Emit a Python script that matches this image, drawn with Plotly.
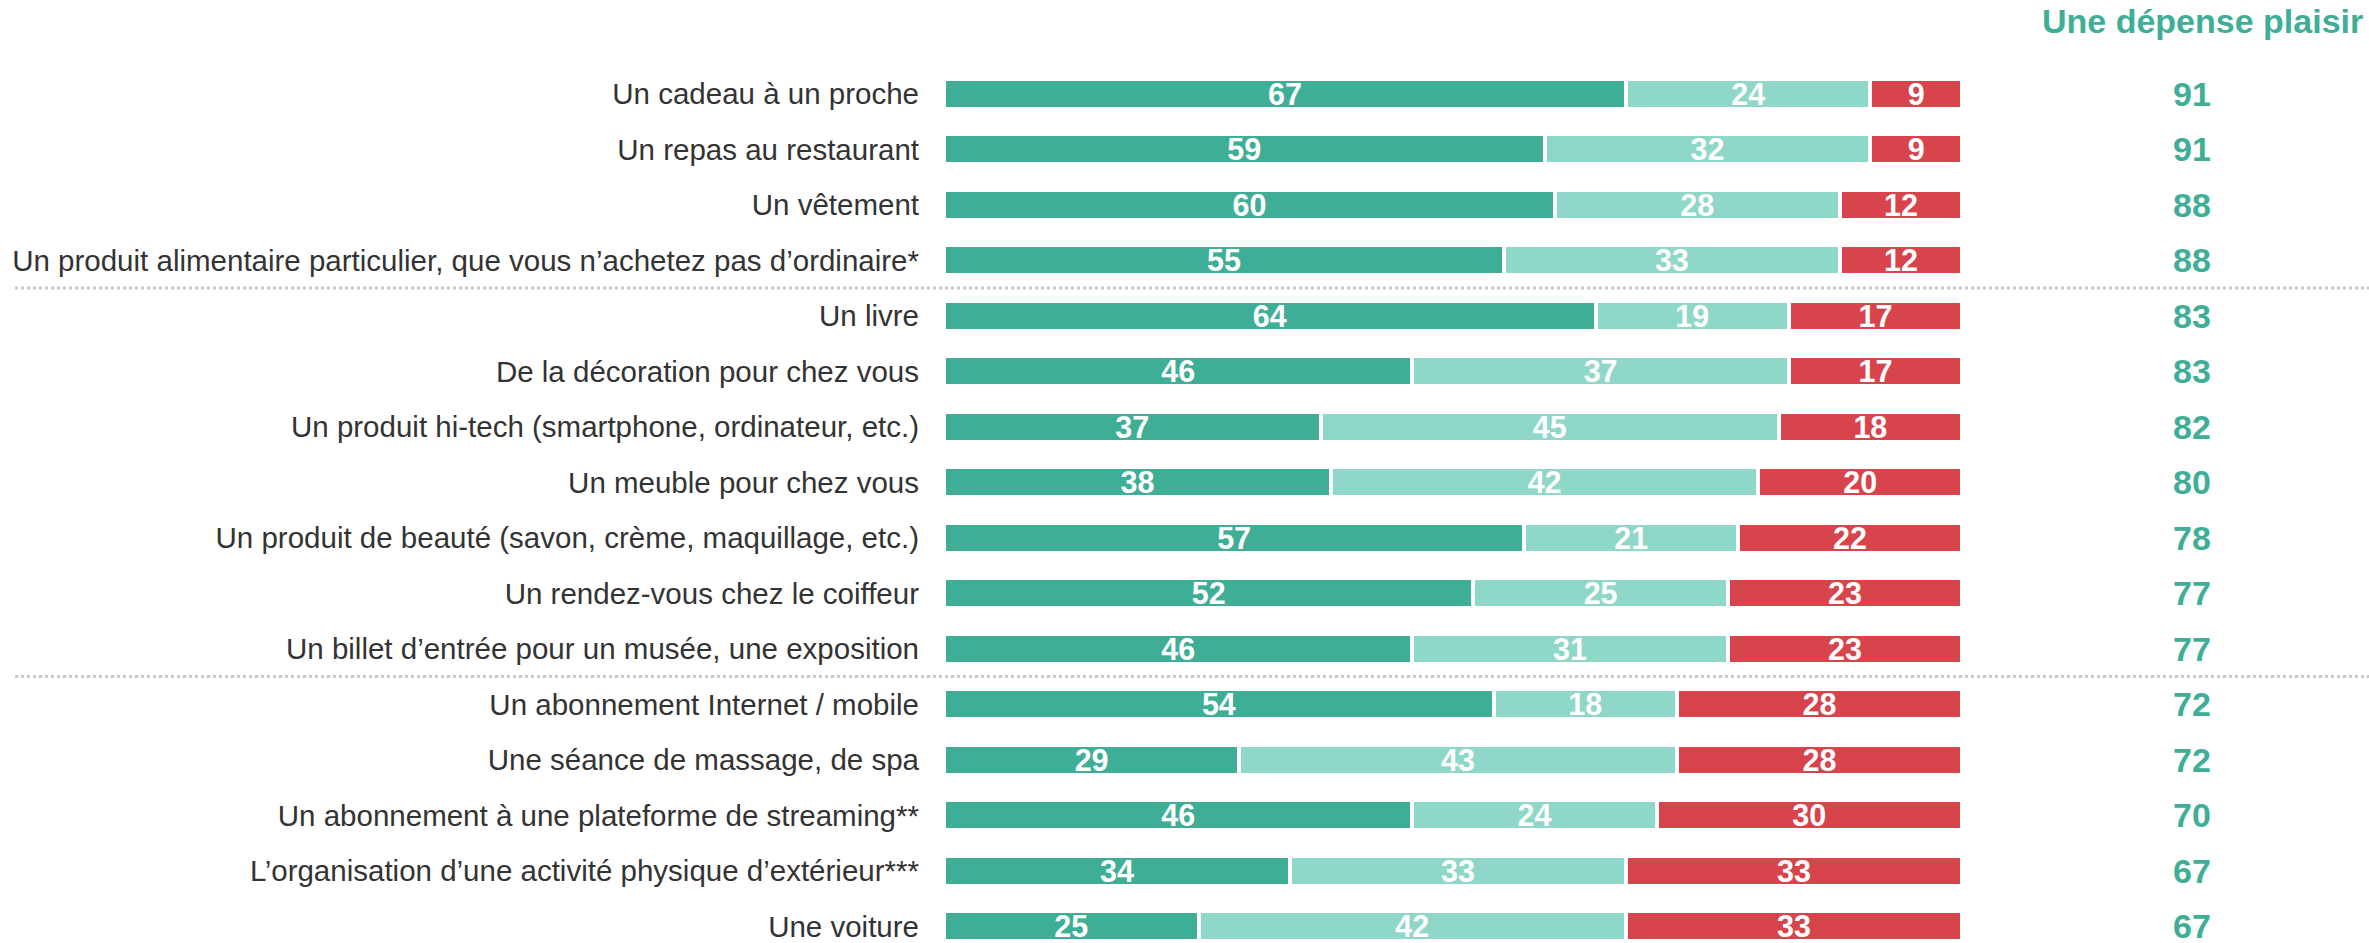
import plotly.graph_objects as go

categories = [
    "Un cadeau à un proche",
    "Un repas au restaurant",
    "Un vêtement",
    "Un produit alimentaire particulier, que vous n’achetez pas d’ordinaire*",
    "Un livre",
    "De la décoration pour chez vous",
    "Un produit hi-tech (smartphone, ordinateur, etc.)",
    "Un meuble pour chez vous",
    "Un produit de beauté (savon, crème, maquillage, etc.)",
    "Un rendez-vous chez le coiffeur",
    "Un billet d’entrée pour un musée, une exposition",
    "Un abonnement Internet / mobile",
    "Une séance de massage, de spa",
    "Un abonnement à une plateforme de streaming**",
    "L’organisation d’une activité physique d’extérieur***",
    "Une voiture",
]
oui_tout_a_fait = [67, 59, 60, 55, 64, 46, 37, 38, 57, 52, 46, 54, 29, 46, 34, 25]
oui_plutot = [24, 32, 28, 33, 19, 37, 45, 42, 21, 25, 31, 18, 43, 24, 33, 42]
non = [9, 9, 12, 12, 17, 17, 18, 20, 22, 23, 23, 28, 28, 30, 33, 33]
depense_plaisir = [91, 91, 88, 88, 83, 83, 82, 80, 78, 77, 77, 72, 72, 70, 67, 67]
header_text = "Une dépense plaisir"
separators_after = [3, 10]

DARK = "#3FAE96"
LIGHT = "#8FD7C8"
RED = "#D7444B"
FONT = "Liberation Sans, Arial, sans-serif"
W, H = 2369, 943

fig = go.Figure()
for vals, col in [(oui_tout_a_fait, DARK), (oui_plutot, LIGHT), (non, RED)]:
    fig.add_trace(go.Bar(
        y=categories, x=vals, orientation="h",
        marker=dict(color=col, line=dict(color="white", width=4)),
        text=vals, texttemplate="<b>%{text}</b>",
        textposition="inside", insidetextanchor="middle",
        constraintext="none", textangle=0,
        textfont=dict(family=FONT, size=30.5, color="white"),
        hoverinfo="skip", showlegend=False,
    ))

annotations = []
for cat, v in zip(categories, depense_plaisir):
    annotations.append(dict(
        x=2192 / W, xref="paper", y=cat, yref="y", text=f"<b>{v}</b>",
        showarrow=False, xanchor="center", yanchor="middle",
        font=dict(family=FONT, size=34, color=DARK),
    ))
annotations.append(dict(
    x=2365 / W, xref="paper", y=1 - 21 / H, yref="paper", text=f"<b>{header_text}</b>",
    showarrow=False, xanchor="right", yanchor="middle",
    font=dict(family=FONT, size=34, color=DARK),
))

shapes = []
for s in separators_after:
    shapes.append(dict(
        type="line", xref="paper", x0=15 / W, x1=1, yref="y", y0=s + 0.5, y1=s + 0.5,
        line=dict(color="#C8C8C8", width=3, dash="dot"),
    ))

fig.update_layout(
    width=W, height=H,
    margin=dict(l=0, r=0, t=0, b=0),
    barmode="stack", bargap=0.46,
    plot_bgcolor="white", paper_bgcolor="white",
    font=dict(family=FONT),
    xaxis=dict(domain=[944 / W, 1962 / W], range=[0, 100], visible=False, fixedrange=True),
    yaxis=dict(
        type="category", categoryorder="array", categoryarray=categories,
        range=[15.30, -1.688], showgrid=False, zeroline=False, showline=False,
        ticks="", ticklabelstandoff=24, fixedrange=True,
        tickfont=dict(family=FONT, size=29.5, color="#333333"),
    ),
    annotations=annotations, shapes=shapes,
)

fig.write_html(
    "out.html",
    config={"displayModeBar": False},
    post_script="document.body.style.margin='0';document.body.style.overflow='hidden';",
)
